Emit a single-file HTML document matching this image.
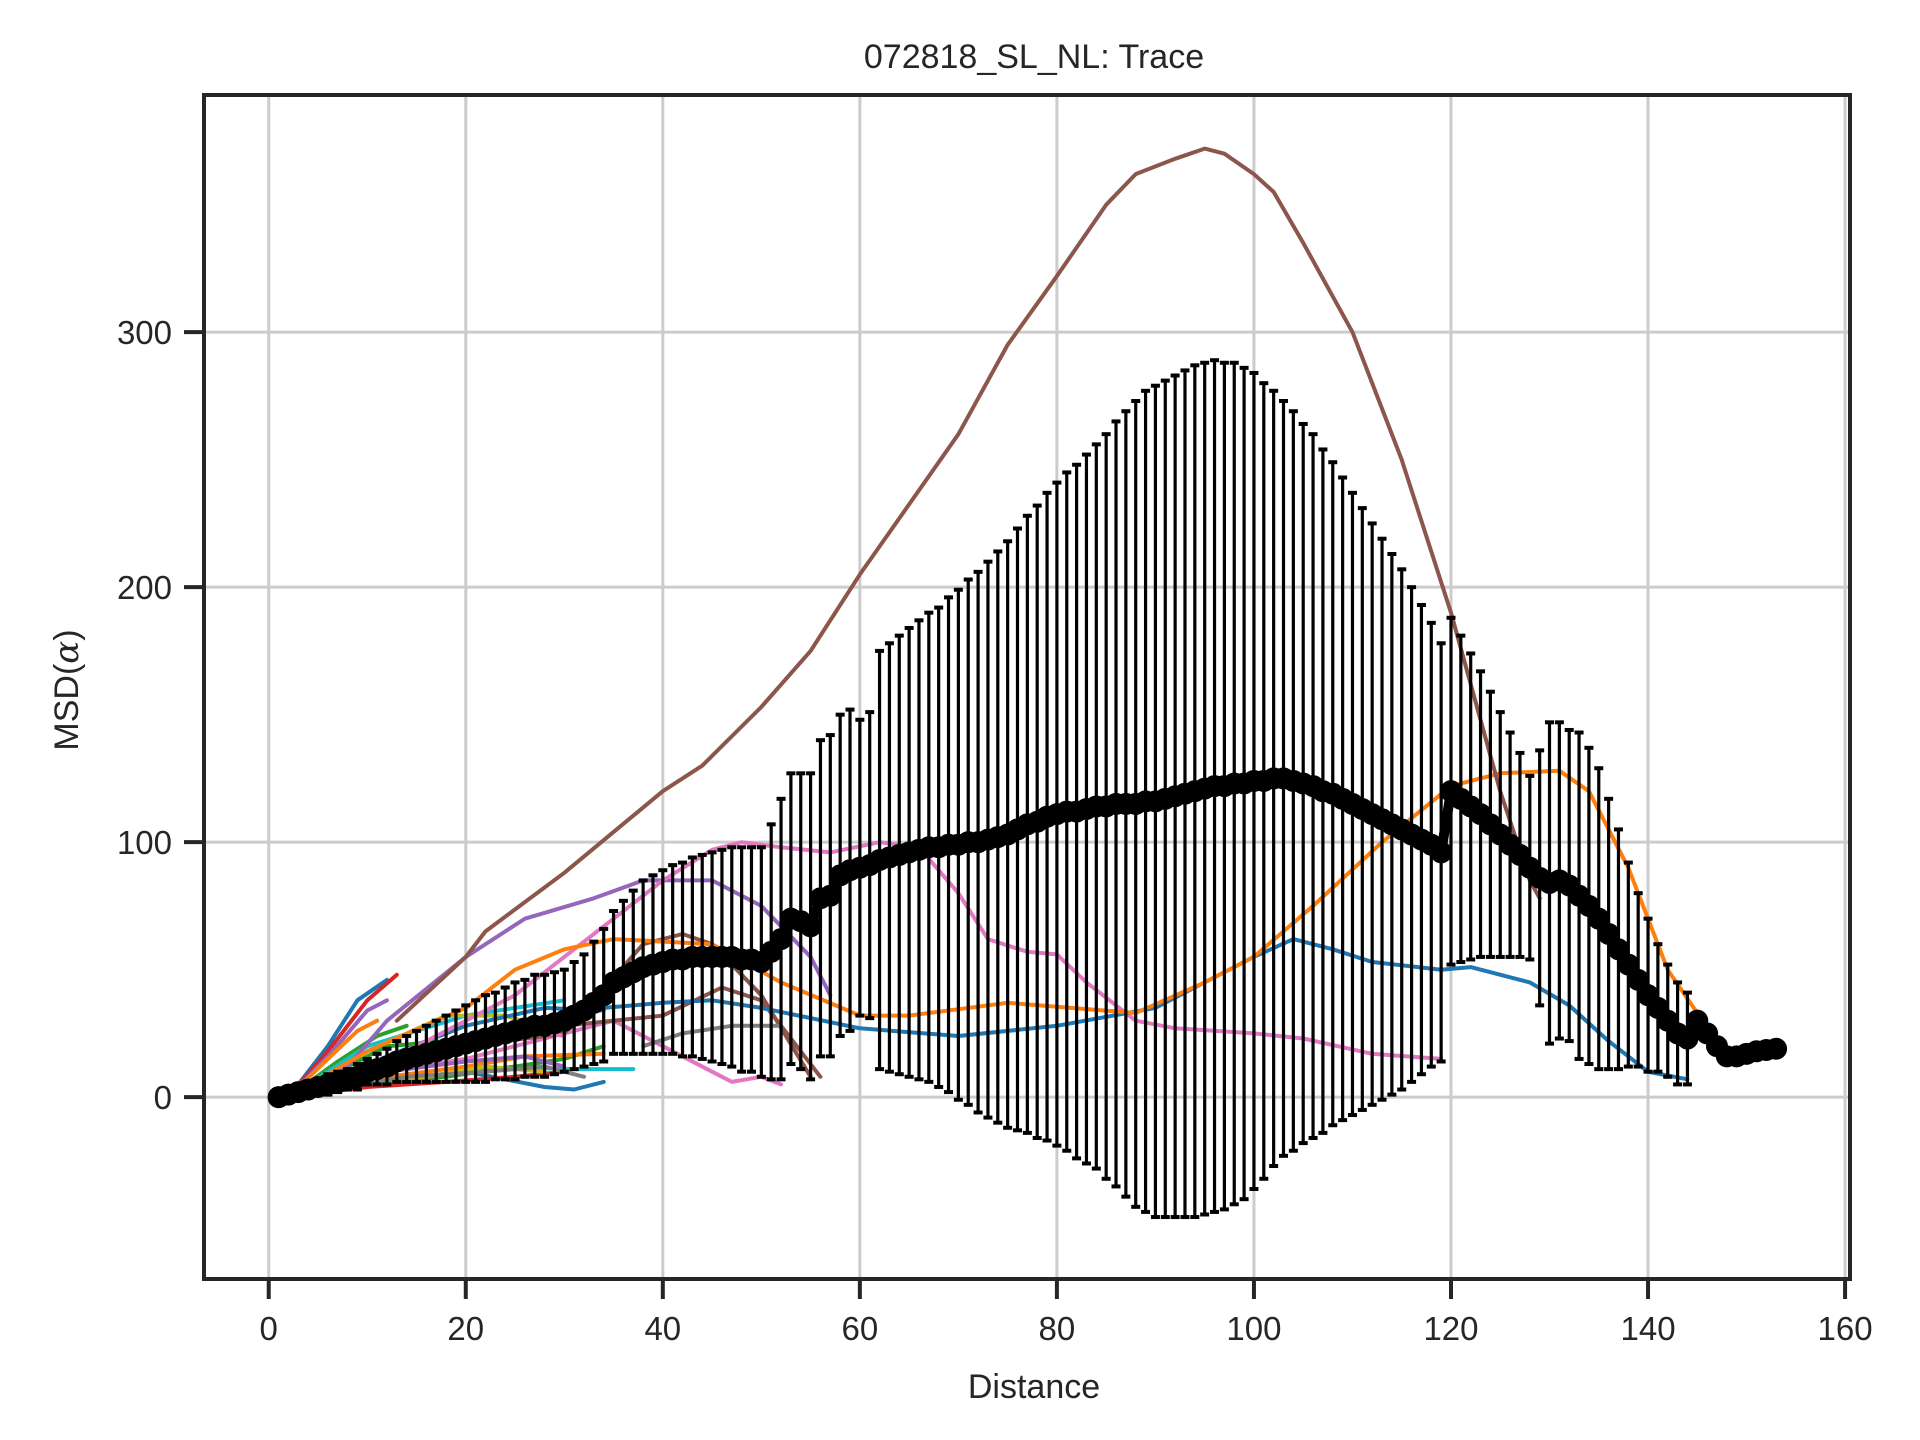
<!DOCTYPE html>
<html><head><meta charset="utf-8">
<style>
html,body{margin:0;padding:0;background:#fff;}
svg{display:block;font-family:"Liberation Sans","DejaVu Sans",sans-serif;}
</style></head>
<body>
<svg id="chart" width="1920" height="1440" viewBox="0 0 1920 1440" xmlns="http://www.w3.org/2000/svg">
<rect x="0" y="0" width="1920" height="1440" fill="#fff"/>
<g id="grid"></g>
<g id="lines"></g>
<g id="errbars"></g>
<g id="mean"></g>
<g id="axes"></g>
<text x="1034" y="68" font-size="34" fill="#262626" text-anchor="middle">072818_SL_NL: Trace</text>
<text x="1034" y="1398" font-size="34" fill="#262626" text-anchor="middle">Distance</text>
<text x="78" y="690" font-size="34" fill="#262626" text-anchor="middle" transform="rotate(-90 78 690)">MSD(<tspan font-style="italic" font-family="'DejaVu Serif',serif">α</tspan>)</text>
</svg>
<script>
const xTicks = [0,20,40,60,80,100,120,140,160];
const yTicks = [0,100,200,300];
const meanValues = [0,1,2,3,4,5,6,7,8,10,11,12,14,15,16,17,18,19,20,21,
22,23,24,25,26,27,28,28,29,30,32,34,37,40,45,47,49,51,52,53,
54,54,55,55,55,55,55,54,54,53,57,62,70,69,67,78,79,87,89,90,
91,93,94,95,96,97,98,98,99,99,100,100,101,102,103,105,107,108,110,111,
112,112,113,114,114,115,115,115,116,116,117,118,119,120,121,122,122,123,123,124,
124,125,125,124,123,122,120,119,117,115,113,111,109,107,105,103,101,99,96,120,
117,114,111,107,103,99,95,90,86,84,85,83,79,75,70,64,58,52,46,40,
35,30,25,23,30,25,20,16,16,17,18,18.5,19];
const stdValues = [0,1,2,3,3,4,4,4,5,5,6,7,8,9,10,11,12,13,14,15,
16,17,17,18,19,19,20,20,20,20,21,22,24,26,28,30,32,34,35,36,
37,38,39,40,41,42,43,44,44,45,50,55,57,58,60,62,63,63,63,58,
60,82,84,86,88,90,92,94,97,100,103,106,109,112,115,118,121,124,127,130,
133,136,139,142,146,150,154,158,161,163,164,165,166,167,167,167,166,165,163,160,
156,152,148,145,141,138,134,130,126,122,118,114,110,106,102,97,92,87,82,68,
64,60,56,52,48,44,40,36,50,63,62,61,64,62,59,53,47,40,34,30,
25,22,20,18];
const brownX=[13,20,22,30,40,44,50,55,60,70,75,80,85,88,92,95,97,100,102,105,110,115,120,125,128,129];
const brownY=[30,55,65,88,120,130,153,175,205,260,295,322,350,362,368,372,370,362,355,335,300,250,190,120,85,78];
const orangeX=[2,10,20,25,30,35,40,45,52,60,65,75,88,95,100,106,113,120,125,131,134,138,142,145];
const orangeY=[0,18,35,50,58,62,61,60,45,32,32,37,33,45,55,75,100,122,127,128,120,90,50,33];
const blueX=[2,10,20,28,34,40,45,50,60,70,80,90,95,100,104,108,112,119,122,128,132,136,140,144];
const blueY=[0,8,18,28,35,37,38,35,27,24,28,35,45,55,62,58,53,50,51,45,36,22,10,7];
const pinkX=[5,15,25,35,40,45,48,52,57,62,66,70,73,77,80,83,88,92,100,105,112,119];
const pinkY=[5,20,40,70,85,97,100,98,96,100,98,80,62,57,56,45,30,27,25,23,17,15];
const purpleX=[2,8,12,20,26,33,38,45,50,55,57];
const purpleY=[0,12,30,55,70,78,85,85,75,55,40];
const shortSeries = [
 {c:'#1f77b4',x:[2,6,9,12],y:[0,20,38,46]},
 {c:'#d62728',x:[2,6,10,13],y:[0,18,38,48]},
 {c:'#9467bd',x:[2,6,10,12],y:[0,16,34,38]},
 {c:'#ff7f0e',x:[2,6,9,11],y:[0,15,26,30]},
 {c:'#2ca02c',x:[2,7,11,14],y:[0,14,24,28]},
 {c:'#17becf',x:[2,10,20,25,30],y:[0,20,32,35,38]},
 {c:'#bcbd22',x:[2,10,18,24,29],y:[0,18,32,32,26]},
 {c:'#1f77b4',x:[2,12,20,28,34],y:[0,16,28,35,34]},
 {c:'#e377c2',x:[2,12,20,30,35,40,45,47,50,52],y:[0,10,15,25,30,20,10,6,8,5]},
 {c:'#17becf',x:[2,15,25,30,34,37],y:[0,8,12,11,11,11]},
 {c:'#1f77b4',x:[2,12,20,28,31,34],y:[0,6,10,4,3,6]},
 {c:'#8c564b',x:[20,30,38,42,45,50,55],y:[20,25,60,64,60,40,8]},
 {c:'#8c564b',x:[30,40,46,50,56],y:[28,32,43,38,8]},
 {c:'#7f7f7f',x:[38,42,47,52],y:[20,25,28,28]},
 {c:'#2ca02c',x:[2,10,18,25,30,34],y:[0,5,8,12,15,20]},
 {c:'#d62728',x:[2,10,18,25,30],y:[0,4,6,8,10]},
 {c:'#ff7f0e',x:[2,12,20,26,34],y:[0,8,12,16,17]},
 {c:'#bcbd22',x:[2,10,16,22,28],y:[0,6,8,12,10]},
 {c:'#9467bd',x:[2,12,20,26,30],y:[0,10,14,16,12]},
 {c:'#7f7f7f',x:[2,14,22,28,32],y:[0,8,10,12,8]},
 {c:'#e377c2',x:[2,12,18,24,30],y:[0,14,22,28,24]},
 {c:'#2ca02c',x:[2,8,12,18,24],y:[0,12,20,22,22]}
];
const NS='http://www.w3.org/2000/svg';
const L=204,R=1850,T=95,B=1279;
const xMin=-6.57,xMax=160.5,yMin=-71.3,yMax=393;
function sx(v){return L+(v-xMin)/(xMax-xMin)*(R-L);}
function sy(v){return B-(v-yMin)/(yMax-yMin)*(B-T);}
function mk(tag,attrs,parent){const e=document.createElementNS(NS,tag);for(const k in attrs)e.setAttribute(k,attrs[k]);parent.appendChild(e);return e;}
const grid=document.getElementById('grid'),axes=document.getElementById('axes');
xTicks.forEach(t=>{
 const g=mk('line',{x1:sx(t),x2:sx(t),y1:T,y2:B,stroke:'#cccccc','stroke-width':3},grid);
 
 
 const tk=mk('line',{x1:sx(t),x2:sx(t),y1:B,y2:B+20,stroke:'#262626','stroke-width':4},axes);
 
 
 const tx=mk('text',{x:sx(t),y:B+61,'font-size':33,fill:'#262626','text-anchor':'middle'},axes);
 tx.textContent=t;
 
 
});
yTicks.forEach(t=>{
 const g=mk('line',{x1:L,x2:R,y1:sy(t),y2:sy(t),stroke:'#cccccc','stroke-width':3},grid);
 
 
 const tk=mk('line',{x1:L-20,x2:L,y1:sy(t),y2:sy(t),stroke:'#262626','stroke-width':4},axes);
 
 
 const tx=mk('text',{x:L-32,y:sy(t)+12,'font-size':33,fill:'#262626','text-anchor':'end'},axes);
 tx.textContent=t;
 
 
});
const frame=mk('rect',{x:L,y:T,width:R-L,height:B-T,fill:'none',stroke:'#262626','stroke-width':4},axes);


const linesG=document.getElementById('lines');
function drawLine(xs,ys,c,name){
 const d=xs.map((x,i)=>(i?'L':'M')+sx(x).toFixed(1)+' '+sy(ys[i]).toFixed(1)).join(' ');
 const p=mk('path',{d:d,fill:'none',stroke:c,'stroke-width':4,'stroke-linejoin':'round','stroke-linecap':'round'},linesG);
 
 
}
shortSeries.forEach(s=>drawLine(s.x,s.y,s.c,'short-trace'));
drawLine(purpleX,purpleY,'#9467bd','purple-trace');
drawLine(pinkX,pinkY,'#e377c2','pink-trace');
drawLine(blueX,blueY,'#1f77b4','blue-trace');
drawLine(orangeX,orangeY,'#ff7f0e','orange-trace');
drawLine(brownX,brownY,'#8c564b','brown-trace');
const eb=document.getElementById('errbars');
stdValues.forEach((s,i)=>{
 const x=i+1,m=meanValues[i];
 if(s<=0)return;
 const X=sx(x),y1=sy(m+s),y2=sy(m-s);
 const l=mk('line',{x1:X,x2:X,y1:y1,y2:y2,stroke:'#000','stroke-width':3.2},eb);
 
 
 const c1=mk('line',{x1:X-4.5,x2:X+4.5,y1:y1,y2:y1,stroke:'#000','stroke-width':4},eb);
 
 
 const c2=mk('line',{x1:X-4.5,x2:X+4.5,y1:y2,y2:y2,stroke:'#000','stroke-width':4},eb);
 
 
});
const mg=document.getElementById('mean');
const md=meanValues.map((v,i)=>(i?'L':'M')+sx(i+1).toFixed(1)+' '+sy(v).toFixed(1)).join(' ');
const mp=mk('path',{d:md,fill:'none',stroke:'#000','stroke-width':10},mg);


meanValues.forEach((v,i)=>{
 const c=mk('circle',{cx:sx(i+1),cy:sy(v),r:11,fill:'#000'},mg);
 
 
});
</script>
</body></html>
